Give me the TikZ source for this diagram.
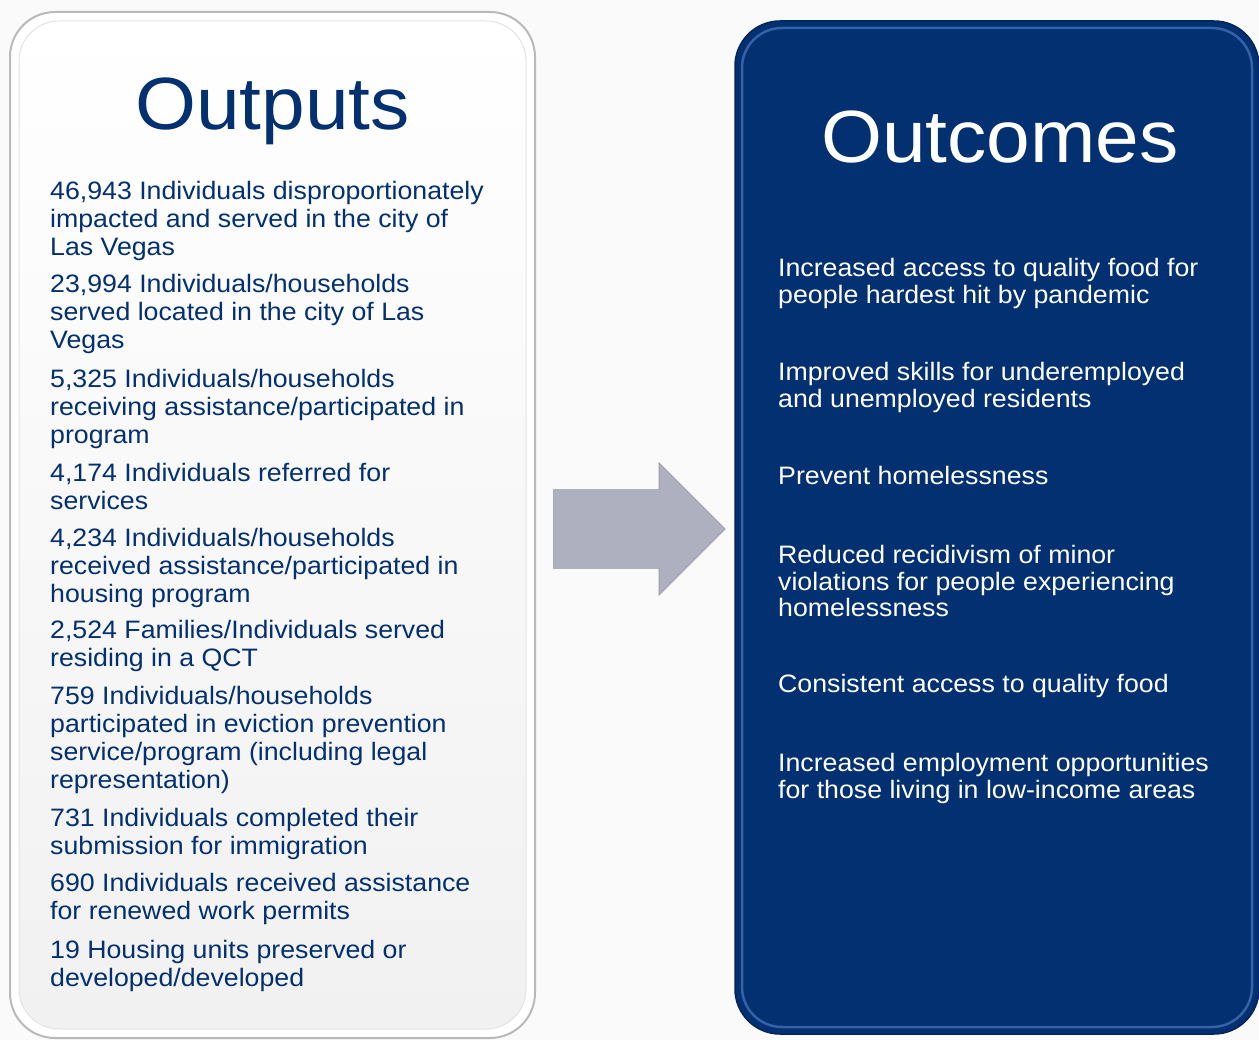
\documentclass[tikz,border=0pt]{standalone}
\usepackage{fontspec}
\setmainfont{Liberation Sans}[FakeStretch=1.06]
\usetikzlibrary{shapes.arrows}
\definecolor{navy}{RGB}{3,48,112}
\definecolor{rimblue}{RGB}{85,130,205}
\definecolor{arrowgray}{RGB}{174,176,191}
\tikzset{
  outputpanel/.style={draw=gray!55,line width=2pt,fill=white,rounded corners=45pt,minimum width=525pt,minimum height=1026pt},
  outputinner/.style={draw=gray!22,line width=1pt,top color=white,bottom color=gray!11,rounded corners=40pt,minimum width=507pt,minimum height=1008pt},
  outcomepanel/.style={draw=navy!80!black,line width=1.5pt,fill=navy,rounded corners=45pt,minimum width=524pt,minimum height=1013pt},
  outcomerim/.style={draw=rimblue,line width=2.5pt,draw opacity=0.6,rounded corners=40pt,minimum width=510pt,minimum height=999pt},
  flow/.style={single arrow,fill=arrowgray,draw=arrowgray!85!black,line width=0.6pt,minimum height=172pt,minimum width=132pt,
    single arrow head extend=27pt,text height=0pt,text depth=0pt,inner sep=0pt,inner ysep=39pt},
  title/.style={anchor=base,inner sep=0pt,font=\fontsize{74}{80}\selectfont},
  output/.style={anchor=north west,inner sep=0pt,align=left,text=navy,font=\fontsize{25.2}{28}\selectfont},
  outcome/.style={anchor=north west,inner sep=0pt,align=left,text=white,font=\fontsize{25.2}{26.7}\selectfont}
}
\begin{document}
\begin{tikzpicture}[x=1pt,y=-1pt]
\useasboundingbox (0,0) rectangle (1259,1040);
\clip (0,0) rectangle (1259,1040);
\fill[gray!4] (0,0) rectangle (1259,1040);

% left panel
\node[outputpanel] (outputs) at (272.5,525) {};
\node[outputinner] (outputsin) at (outputs) {};
\node[title,text=navy] (outtitle) at (272.5,130) {Outputs};

\node[output] (o1) at (50,181) {46,943 Individuals disproportionately\\impacted and served in the city of\\Las Vegas};
\node[output] (o2) at (50,274) {23,994 Individuals/households\\served located in the city of Las\\Vegas};
\node[output] (o3) at (50,369) {5,325 Individuals/households\\receiving assistance/participated in\\program};
\node[output] (o4) at (50,463) {4,174 Individuals referred for\\services};
\node[output] (o5) at (50,528) {4,234 Individuals/households\\received assistance/participated in\\housing program};
\node[output] (o6) at (50,620) {2,524 Families/Individuals served\\residing in a QCT};
\node[output] (o7) at (50,686) {759 Individuals/households\\participated in eviction prevention\\service/program (including legal\\representation)};
\node[output] (o8) at (50,808) {731 Individuals completed their\\submission for immigration};
\node[output] (o9) at (50,873) {690 Individuals received assistance\\for renewed work permits};
\node[output] (o10) at (50,940) {19 Housing units preserved or\\developed/developed};

% arrow
\node[flow,anchor=tail] (arrow) at (553,529) {};

% right panel
\node[outcomepanel] (outcomes) at (997,527.5) {};
\node[outcomerim] (outcomesrim) at (outcomes) {};
\node[title,text=white] (inctitle) at (1000,163) {Outcomes};

\node[outcome] (r1) at (778,258) {Increased access to quality food for\\people hardest hit by pandemic};
\node[outcome] (r2) at (778,362) {Improved skills for underemployed\\and unemployed residents};
\node[outcome] (r3) at (778,466) {Prevent homelessness};
\node[outcome] (r4) at (778,545) {Reduced recidivism of minor\\violations for people experiencing\\homelessness};
\node[outcome] (r5) at (778,674) {Consistent access to quality food};
\node[outcome] (r6) at (778,753) {Increased employment opportunities\\for those living in low-income areas};
\end{tikzpicture}
\end{document}
